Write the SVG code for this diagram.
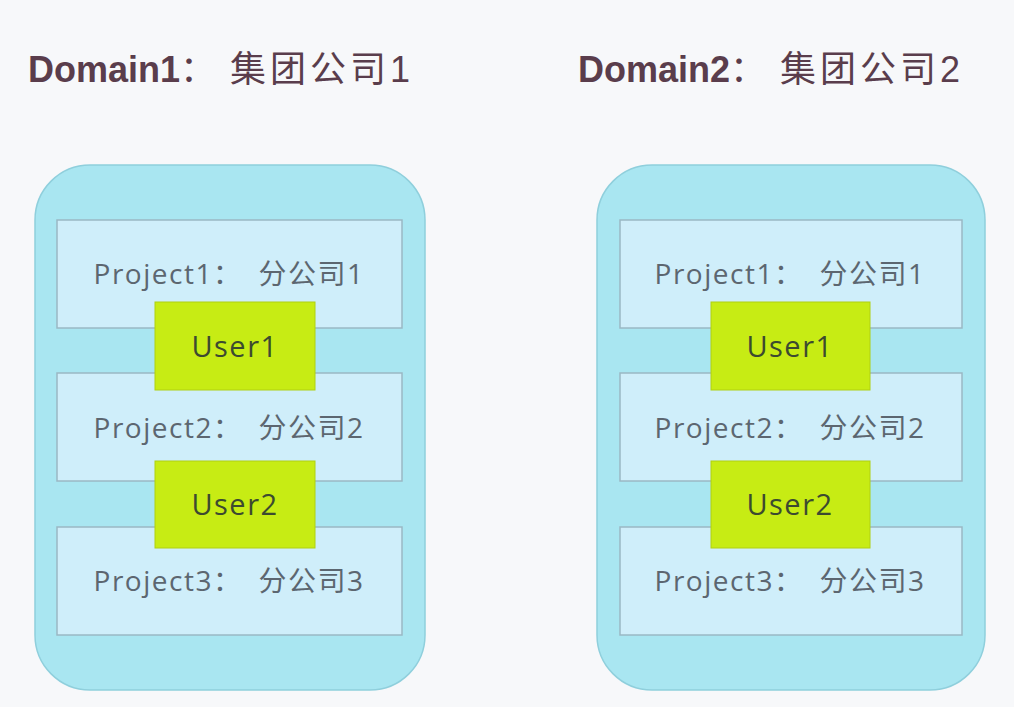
<svg xmlns="http://www.w3.org/2000/svg" width="1014" height="707" viewBox="0 0 1014 707">
<style>
.title{font-family:"Liberation Sans","Noto Sans CJK SC",sans-serif;font-size:36px;fill:#5a3d4c}
.cj{letter-spacing:4px}
.dom{fill:#a9e6f1;stroke:#8fcfdc;stroke-width:1.5}
.proj{fill:#cfeefa;stroke:#9ab8c4;stroke-width:1.5}
.pt{font-family:"Open Sans","Noto Sans CJK SC",sans-serif;font-size:28px;fill:#5c6670;text-anchor:middle;letter-spacing:1.5px}
.user{fill:#c7ec14;stroke:#b0d010;stroke-width:1}
.ut{font-family:"Open Sans",sans-serif;font-size:29px;fill:#3c4a30;text-anchor:middle;letter-spacing:1.5px}
</style>
<rect width="1014" height="707" fill="#f7f8fa"/>
<text class="title" x="28" y="82"><tspan font-weight="bold">Domain1</tspan><tspan class="cj">：<tspan dx="10">集团公司1</tspan></tspan></text>
<text class="title" x="578" y="82"><tspan font-weight="bold">Domain2</tspan><tspan class="cj">：<tspan dx="10">集团公司2</tspan></tspan></text>
<g id="domain1">
<rect class="dom" x="35" y="165" width="390" height="525" rx="55"/>
<g id="d1p1"><rect class="proj" x="57" y="220" width="345" height="108"/><text class="pt" x="229" y="284">Project1：<tspan dx="16">分公司1</tspan></text></g>
<g id="d1p2"><rect class="proj" x="57" y="373" width="345" height="108"/><text class="pt" x="229" y="438">Project2：<tspan dx="16">分公司2</tspan></text></g>
<g id="d1p3"><rect class="proj" x="57" y="527" width="345" height="108"/><text class="pt" x="229" y="591">Project3：<tspan dx="16">分公司3</tspan></text></g>
<g id="d1u1"><rect class="user" x="155" y="302" width="160" height="88"/><text class="ut" x="235" y="357">User1</text></g>
<g id="d1u2"><rect class="user" x="155" y="461" width="160" height="87"/><text class="ut" x="235" y="515">User2</text></g>
</g>
<g id="domain2">
<rect class="dom" x="597" y="165" width="388" height="525" rx="55"/>
<g id="d2p1"><rect class="proj" x="620" y="220" width="342" height="108"/><text class="pt" x="790" y="284">Project1：<tspan dx="16">分公司1</tspan></text></g>
<g id="d2p2"><rect class="proj" x="620" y="373" width="342" height="108"/><text class="pt" x="790" y="438">Project2：<tspan dx="16">分公司2</tspan></text></g>
<g id="d2p3"><rect class="proj" x="620" y="527" width="342" height="108"/><text class="pt" x="790" y="591">Project3：<tspan dx="16">分公司3</tspan></text></g>
<g id="d2u1"><rect class="user" x="711" y="302" width="159" height="88"/><text class="ut" x="790" y="357">User1</text></g>
<g id="d2u2"><rect class="user" x="711" y="461" width="159" height="87"/><text class="ut" x="790" y="515">User2</text></g>
</g>
<g id="connectors"/>
</svg>
